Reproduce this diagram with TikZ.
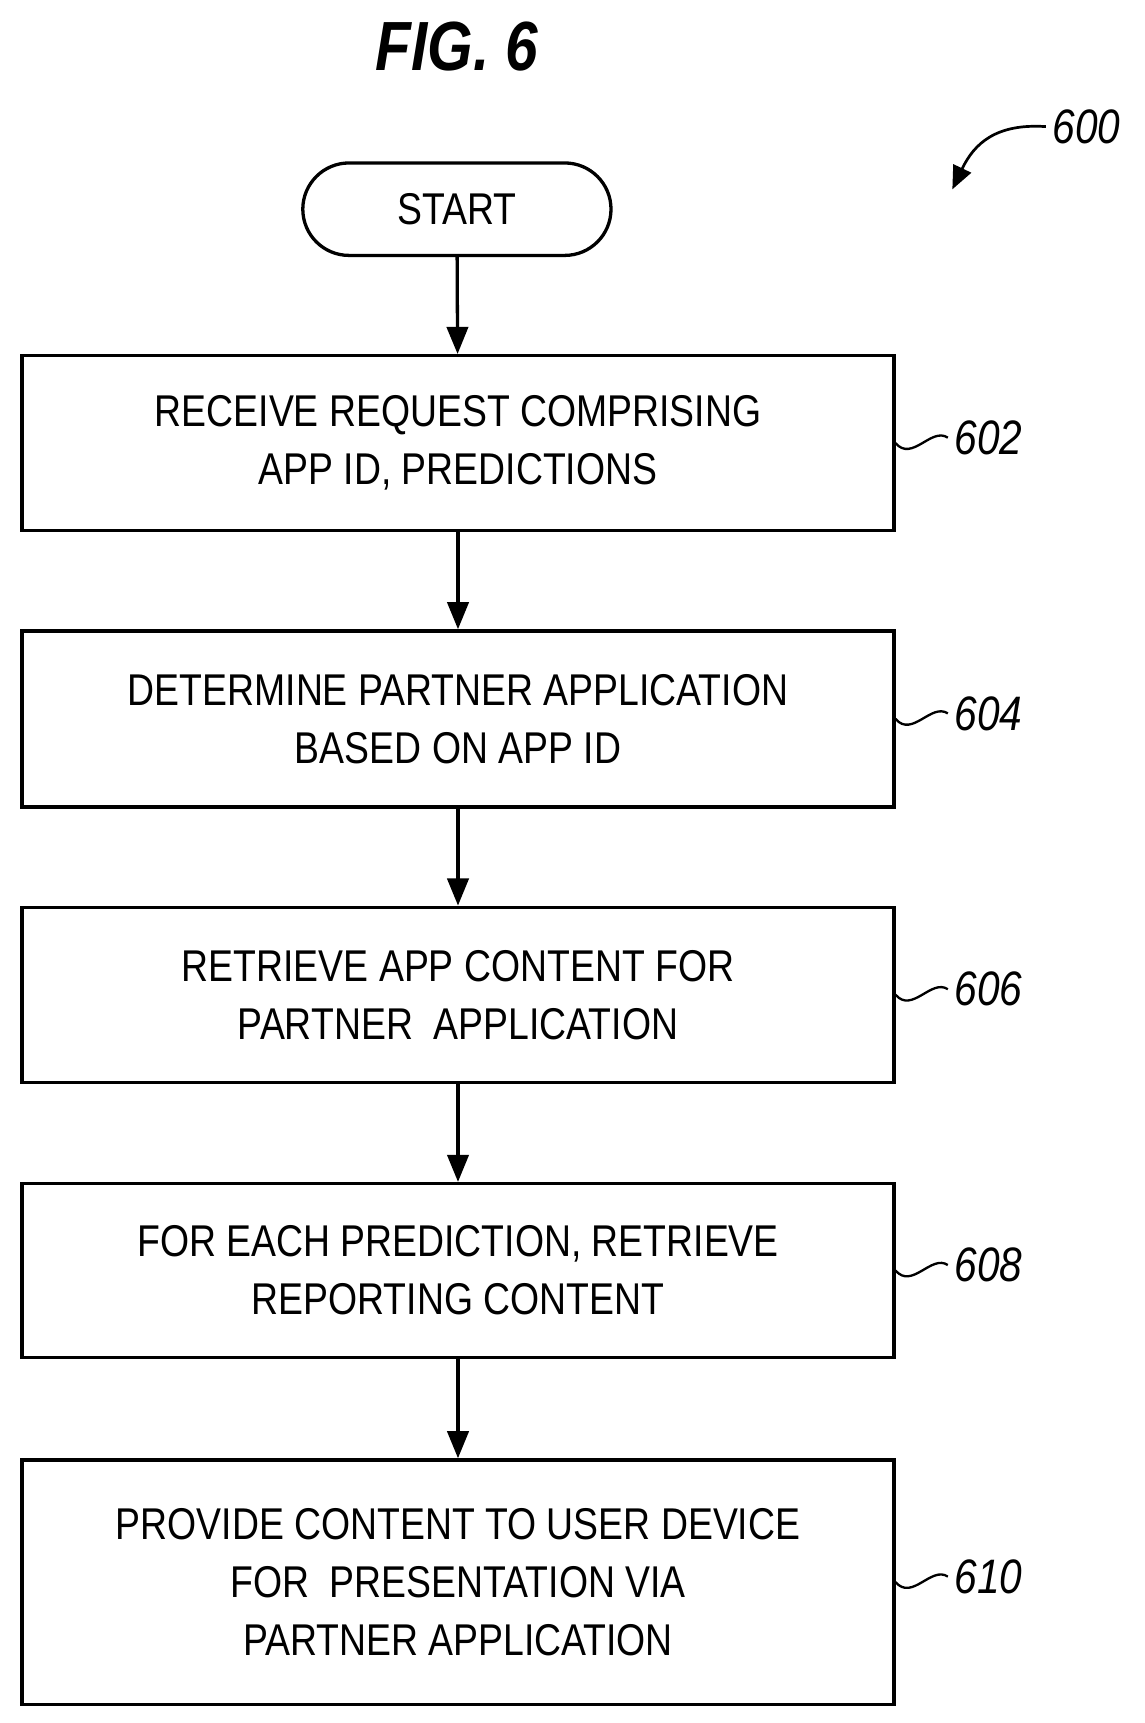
\documentclass[tikz,border=0pt]{standalone}
\usepackage{fontspec}
\setmainfont{Liberation Sans}[FakeStretch=0.84]
\usetikzlibrary{arrows.meta}
\begin{document}
\begin{tikzpicture}[x=0.02cm,y=-0.02cm,
  box/.style={draw,line width=1.7pt,minimum width=15.84cm,align=center,font=\fontsize{23}{30}\selectfont,inner sep=0pt},
  arr/.style={line width=1.7pt,-{Triangle[length=14pt,width=11pt]}},
  lab/.style={font=\itshape\fontsize{25}{29}\selectfont,anchor=west}]
\useasboundingbox (0,0) rectangle (1040,1565);
\node[font=\bfseries\itshape\fontsize{36}{42}\selectfont] (fig) at (415,42) {FIG. 6};
\node[lab] (l600) at (950,115) {600};
\coordinate (a600) at (865,172);
\draw[line width=1.4pt,-{Triangle[length=12pt,width=10pt]}] (l600.west) .. controls (905,112) and (885,130) .. (a600);
\node[draw,line width=1.7pt,rounded corners=42*0.02cm,minimum width=5.6cm,minimum height=1.68cm,font=\fontsize{23}{27}\selectfont] (s) at (415,190) {START};
\node[box,minimum height=3.18cm] (b1) at (416,402.5) {RECEIVE REQUEST COMPRISING\\APP ID, PREDICTIONS};
\node[box,minimum height=3.2cm] (b2) at (416,653) {DETERMINE PARTNER APPLICATION\\BASED ON APP ID};
\node[box,minimum height=3.18cm] (b3) at (416,903.5) {RETRIEVE APP CONTENT FOR\\PARTNER\ \ APPLICATION};
\node[box,minimum height=3.16cm] (b4) at (416,1154) {FOR EACH PREDICTION, RETRIEVE\\REPORTING CONTENT};
\node[box,minimum height=4.44cm] (b5) at (416,1437) {PROVIDE CONTENT TO USER DEVICE\\FOR\ \ PRESENTATION VIA\\PARTNER APPLICATION};
\draw[arr] (s) -- (b1); \draw[arr] (b1) -- (b2); \draw[arr] (b2) -- (b3);
\draw[arr] (b3) -- (b4); \draw[arr] (b4) -- (b5);
\foreach \b/\n in {b1/602,b2/604,b3/606,b4/608,b5/610}{
  \node[lab] (l\n) at ([xshift=0.95cm,yshift=0.1cm]\b.east) {\n};
  \draw[line width=1.2pt] (\b.east) .. controls +(0.3cm,-0.35cm) and +(-0.3cm,0.2cm) .. (l\n.west);
}
\end{tikzpicture}
\end{document}
